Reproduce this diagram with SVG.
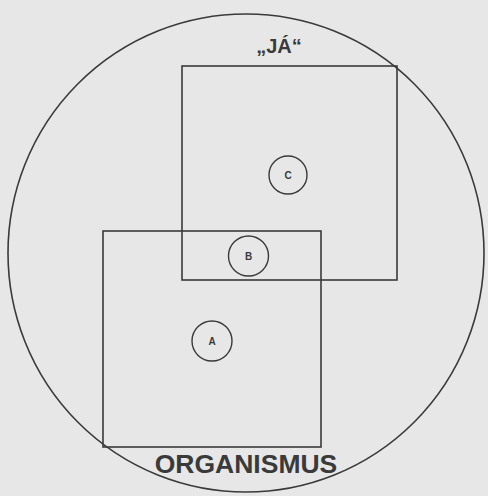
<svg xmlns="http://www.w3.org/2000/svg" width="488" height="496" viewBox="0 0 488 496">
<style>
.ln{fill:none;stroke:#3a3a3a;stroke-width:1.6}
.sm{fill:none;stroke:#3a3a3a;stroke-width:1.4}
.lbl{font-family:"Liberation Sans",Arial,sans-serif;font-weight:bold;fill:#3a3a3a}
.let{font-family:"Liberation Sans",Arial,sans-serif;font-weight:bold;fill:#3a3a3a;font-size:10px;text-anchor:middle}
</style>
<rect width="488" height="496" fill="#e7e7e7"/>
<g id="organism-circle">
<ellipse class="ln" cx="246" cy="253" rx="238" ry="239"/>
</g>
<g id="ja">
<rect class="ln" x="182" y="66" width="215" height="214"/>
<text class="lbl" x="279" y="53" font-size="20" text-anchor="middle">„JÁ“</text>
</g>
<g id="organismus">
<rect class="ln" x="103" y="231" width="218" height="216"/>
<text class="lbl" x="246" y="473" font-size="26.5" text-anchor="middle">ORGANISMUS</text>
</g>
<g id="node-c">
<circle class="sm" cx="288" cy="175" r="19"/>
<text class="let" x="288" y="179">C</text>
</g>
<g id="node-b">
<circle class="sm" cx="248.5" cy="256" r="20"/>
<text class="let" x="248.5" y="260">B</text>
</g>
<g id="node-a">
<circle class="sm" cx="212" cy="341" r="20"/>
<text class="let" x="212" y="345">A</text>
</g>
<g id="connectors"></g>
</svg>
